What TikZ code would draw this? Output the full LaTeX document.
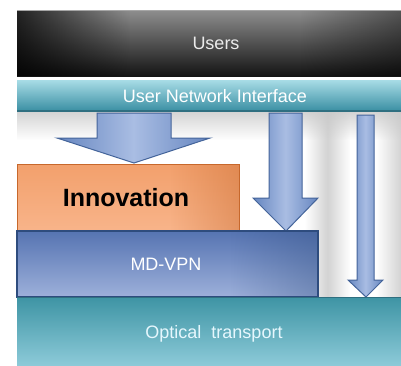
\documentclass[tikz,border=0pt]{standalone}
\usepackage{fontspec}
\setmainfont{Liberation Sans}
\usetikzlibrary{fadings}
\definecolor{usrtop}{HTML}{8E8E8E}
\definecolor{usrbot}{HTML}{141414}
\definecolor{unitop}{HTML}{A8DCE6}
\definecolor{unibot}{HTML}{3A8FA3}
\definecolor{unidraw}{HTML}{2F6F80}
\definecolor{arrlight}{HTML}{A9BDE3}
\definecolor{arrdark}{HTML}{6686C0}
\definecolor{arrdraw}{HTML}{44649A}
\definecolor{invtop}{HTML}{F2A06C}
\definecolor{invbot}{HTML}{F8B48A}
\definecolor{invdraw}{HTML}{C7682C}
\definecolor{vpntop}{HTML}{5674B2}
\definecolor{vpnbot}{HTML}{9DB0DA}
\definecolor{vpndraw}{HTML}{2E4C7E}
\definecolor{opttop}{HTML}{3E94A4}
\definecolor{optbot}{HTML}{8CCAD8}
\definecolor{shadowgray}{HTML}{C8C8C8}
\tikzfading[name=fadeR, left color=transparent!0, right color=transparent!100]
\tikzfading[name=fadeL, left color=transparent!100, right color=transparent!0]
\tikzfading[name=fadeD, top color=transparent!0, bottom color=transparent!100]
\tikzfading[name=fadeMid, left color=transparent!100, right color=transparent!100, middle color=transparent!0]
\tikzset{
  lbl/.style={font=\fontsize{18}{20}\selectfont, text=white},
  arrowshape/.style={draw=arrdraw, line width=1pt, line join=miter, left color=arrdark, right color=arrdark, middle color=arrlight},
  softshadow/.style={fill=shadowgray, opacity=0.8}
}
\begin{document}
\begin{tikzpicture}[x=1pt,y=-1pt]
\useasboundingbox (0,0) rectangle (401,365);
\fill[white] (0,0) rectangle (401,365);
% soft background shadows
\fill[softshadow, path fading=fadeD] (17,111) rectangle (401,140);
\fill[softshadow, path fading=fadeMid] (305,111) rectangle (350,297);
\fill[softshadow, path fading=fadeL] (376,111) rectangle (401,297);
% Users
\shade[top color=usrtop, bottom color=usrbot] (17,10) rectangle (401,76);
\fill[black, path fading=fadeR, opacity=0.75] (17,10) rectangle (130,76);
\fill[black, path fading=fadeL, opacity=0.4] (300,10) rectangle (401,76);
\draw[gray!70, line width=1.5pt] (17,10.5) -- (401,10.5);
\node[lbl, text=white!92!black] (users) at (216,43) {Users};
% User Network Interface
\shade[top color=unitop, bottom color=unibot] (17,80) rectangle (401,111);
\draw[unidraw, line width=1.2pt] (17,111) -- (401,111);
\node[lbl] (uni) at (215,96) {User Network Interface};
% Arrows
\draw[arrowshape] (97,113) -- (171,113) -- (171,138) -- (210,138) -- (134,163) -- (57,138) -- (97,138) -- cycle;
\draw[arrowshape] (269,113) -- (302,113) -- (302,198) -- (318,198) -- (286,231) -- (253,198) -- (269,198) -- cycle;
\draw[arrowshape] (357,115) -- (374,115) -- (374,280) -- (383,280) -- (366,297) -- (348,280) -- (357,280) -- cycle;
% Innovation
\shade[top color=invtop, bottom color=invbot, draw=invdraw, line width=1pt] (17,164) rectangle (239,231);
\fill[invdraw, path fading=fadeL, opacity=0.4] (170,164) rectangle (239,231);
\node[font=\fontsize{25}{27}\selectfont\bfseries, text=black] (inno) at (126,198) {Innovation};
% MD-VPN
\shade[top color=vpntop, bottom color=vpnbot] (17,231) rectangle (318,297);
\fill[vpndraw, path fading=fadeL, opacity=0.35] (230,231) rectangle (318,297);
\draw[vpndraw, line width=1.5pt] (17,231) rectangle (318,297);
\node[lbl] (vpn) at (166,264) {MD-VPN};
% Optical transport
\shade[top color=opttop, bottom color=optbot] (17,297) rectangle (401,365);
\draw[unidraw, line width=1pt] (17,297) -- (401,297);
\node[lbl, text=white!90!cyan] (opt) at (214,334) {Optical\ \ transport};
\end{tikzpicture}
\end{document}
